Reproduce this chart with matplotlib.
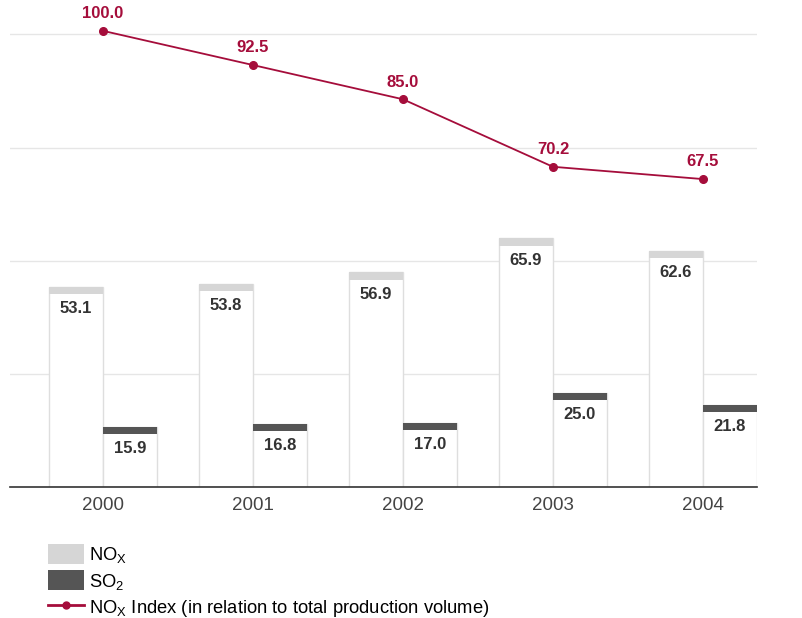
import numpy as np
import matplotlib.pyplot as plt
from matplotlib.patches import Patch
from matplotlib.lines import Line2D

plt.rcParams['font.family'] = ['Liberation Sans', 'DejaVu Sans']
plt.rcParams['mathtext.fontset'] = 'custom'
plt.rcParams['mathtext.rm'] = 'Liberation Sans'
plt.rcParams['mathtext.it'] = 'Liberation Sans:italic'
plt.rcParams['mathtext.bf'] = 'Liberation Sans:bold'

years = ["2000", "2001", "2002", "2003", "2004"]
nox = [53.1, 53.8, 56.9, 65.9, 62.6]
so2 = [15.9, 16.8, 17.0, 25.0, 21.8]
nox_index = [100.0, 92.5, 85.0, 70.2, 67.5]

red = "#a50d3b"
light = "#d6d6d6"
dark = "#555555"
edge = "#dedede"
txt = "#333333"

fig = plt.figure(figsize=(8.03, 6.18), dpi=100)
ax = fig.add_axes([0.0125, 0.212, 0.93, 0.775])

x = np.arange(len(years))
w = 0.36
cap = 1.9

ax.bar(x - w / 2, nox, w, color="white", edgecolor=edge, linewidth=1, zorder=2)
ax.bar(x + w / 2, so2, w, color="white", edgecolor=edge, linewidth=1, zorder=2)
ax.bar(x - w / 2, cap, w, bottom=np.array(nox) - cap, color=light, linewidth=0, zorder=3)
ax.bar(x + w / 2, cap, w, bottom=np.array(so2) - cap, color=dark, linewidth=0, zorder=3)

for i in range(len(years)):
    ax.text(x[i] - w / 2, nox[i] - 5.8, f"{nox[i]:.1f}", ha="center", va="center",
            fontsize=12, fontweight="bold", color=txt, zorder=4)
    ax.text(x[i] + w / 2, so2[i] - 5.8, f"{so2[i]:.1f}", ha="center", va="center",
            fontsize=12, fontweight="bold", color=txt, zorder=4)

ax.set_xlim(-0.62, 4.36)
ax.set_ylim(0, 127)
ax.set_yticks([30, 60, 90, 120])
ax.yaxis.grid(True, color="#e6e6e6", linewidth=1, zorder=0)
ax.set_axisbelow(True)
ax.set_xticks(x)
ax.set_xticklabels(years, fontsize=13.5, color="#444444")
ax.tick_params(axis="x", length=0, pad=7)
for s in ["top", "right", "left"]:
    ax.spines[s].set_visible(False)
ax.spines["bottom"].set_color("#333333")
ax.spines["bottom"].set_linewidth(1.2)
ax.spines["bottom"].set_zorder(5)

ax2 = ax.twinx()
ax2.set_ylim(0, 105)
ax2.plot(x, nox_index, color=red, linewidth=1.3, marker="o", markersize=5.5, zorder=5)
for i in range(len(years)):
    ax2.annotate(f"{nox_index[i]:.1f}", (x[i], nox_index[i]), xytext=(0, 7),
                 textcoords="offset points", ha="center", va="bottom",
                 fontsize=12, fontweight="bold", color=red)
ax2.set_yticks([])
for s in ax2.spines.values():
    s.set_visible(False)
ax.tick_params(axis="y", left=False, right=False, labelleft=False, labelright=False)

handles = [
    Patch(facecolor=light, edgecolor="none"),
    Patch(facecolor=dark, edgecolor="none"),
    Line2D([0], [0], color=red, linewidth=2, marker="o", markersize=5),
]
labels = [r"NO$_\mathrm{X}$", r"SO$_\mathrm{2}$",
          r"NO$_\mathrm{X}$ Index (in relation to total production volume)"]
fig.legend(handles, labels, loc="upper left", bbox_to_anchor=(0.06, 0.12),
           frameon=False, fontsize=13.2, handlelength=1.95, handleheight=1.3,
           labelspacing=0.3, handletextpad=0.3, borderaxespad=0, borderpad=0)

fig.savefig("out.png", dpi=100)
